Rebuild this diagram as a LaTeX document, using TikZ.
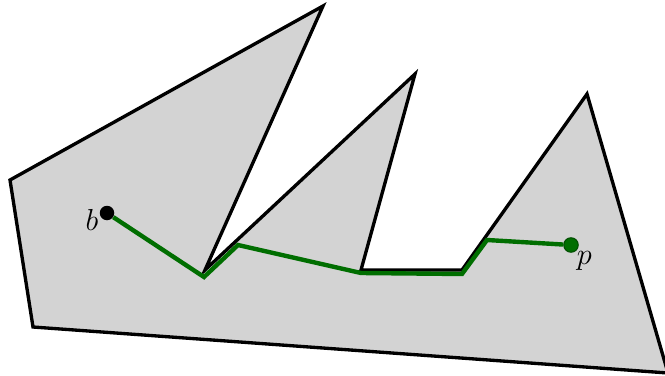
\documentclass[tikz,border=0pt]{standalone}
\usepackage{tikz}
\usetikzlibrary{positioning}
\definecolor{regiongray}{RGB}{211,211,211}
\definecolor{routegreen}{RGB}{0,110,0}

\begin{document}
\begin{tikzpicture}[
    x=0.02cm, y=-0.02cm,
    region/.style={draw=black, line width=1.9pt, line join=miter, fill=regiongray},
    route/.style={draw=routegreen, line width=2.5pt},
    site/.style={circle, fill=black, inner sep=0pt, minimum size=0.29cm},
    goal/.style={circle, draw=routegreen!70!black, line width=0.6pt, fill=routegreen, inner sep=0pt, minimum size=0.29cm},
    label/.style={inner sep=0pt, font=\LARGE},
]

    \useasboundingbox (0,0) rectangle (665,375);

    % polygon corners
    \coordinate (west) at (10,180);
    \coordinate (spike1) at (323,6);
    \coordinate (dip1) at (205,270);
    \coordinate (spike2) at (415,74);
    \coordinate (dip2a) at (361,270);
    \coordinate (dip2b) at (462,270);
    \coordinate (spike3) at (587,94);
    \coordinate (southeast) at (668,373);
    \coordinate (southwest) at (33,327);

    \draw [region] (west) -- (spike1) -- (dip1) -- (spike2) -- (dip2a) -- (dip2b)
        -- (spike3) -- (southeast) -- (southwest) -- cycle;

    % path bends
    \coordinate (bend1) at (204,277);
    \coordinate (bend2) at (238,245);
    \coordinate (bend3) at (361,273);
    \coordinate (bend4) at (462,274);
    \coordinate (bend5) at (487,240);

    \node (b) [site] at (107,213) {};
    \node (p) [goal] at (571,245) {};
    \node (blabel) [label, below left=-0.18cm and 0.06cm of b] {$b$};
    \node (plabel) [label, below right=0.02cm and 0cm of p] {$p$};

    \draw [route] (b) -- (bend1) -- (bend2) -- (bend3) -- (bend4) -- (bend5) -- (p);

\end{tikzpicture}
\end{document}
